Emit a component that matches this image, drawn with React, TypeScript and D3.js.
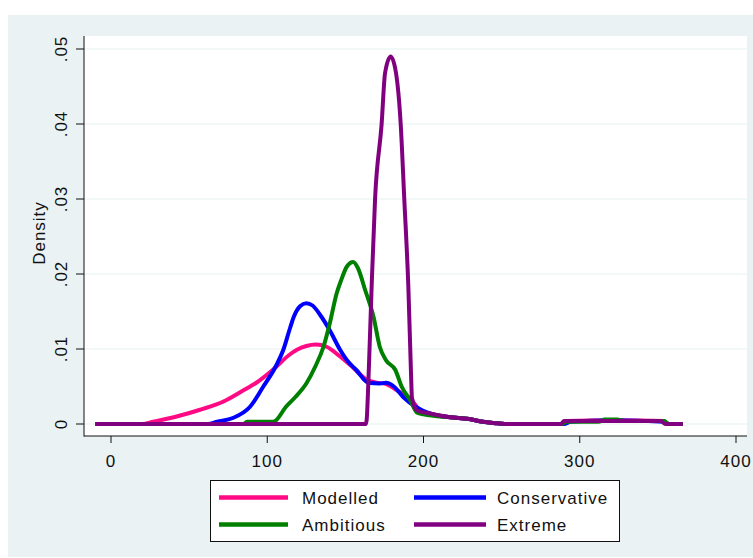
import { useEffect, useRef } from "react";
import * as d3 from "d3";

type Pt = [number, number];

// kernel density estimates (value, density)
const modelled: Pt[] = [
  [-10, 0], [20, 0], [27, 0.0003], [42, 0.001], [57, 0.0019], [72, 0.003], [84, 0.0044],
  [93, 0.0055], [104, 0.0073], [114, 0.0092], [119, 0.0099], [125, 0.0104], [131, 0.0106],
  [138, 0.0103], [146, 0.0091], [155, 0.0075], [163, 0.006], [170, 0.0055], [175, 0.0054],
  [183, 0.0045], [193, 0.003], [198, 0.0018], [204, 0.0014], [217, 0.0009], [228, 0.0007],
  [238, 0.0003], [247, 0.0001], [252, 0], [288, 0], [292, 0.0004], [320, 0.0005],
  [354, 0.0004], [356, 0], [366, 0],
];

const conservative: Pt[] = [
  [-10, 0], [62, 0], [68, 0.0003], [78, 0.0008], [89, 0.0023], [97.5, 0.005], [106, 0.0079],
  [110.3, 0.0099], [114.6, 0.0128], [117, 0.0143], [121, 0.0157], [125, 0.0161], [129, 0.0158],
  [134, 0.0145], [140, 0.0125], [146.6, 0.0099], [151, 0.0085], [157, 0.0072], [164.7, 0.0055],
  [172, 0.0054], [176, 0.0055], [181, 0.005], [187, 0.0036], [195.7, 0.0022], [204, 0.0014],
  [217, 0.0009], [228, 0.0007], [238, 0.0003], [247, 0.0001], [252, 0], [290, 0],
  [294, 0.0003], [320, 0.0005], [354, 0.0003], [357, 0], [366, 0],
];

const ambitious: Pt[] = [
  [-10, 0], [85, 0], [87, 0.0003], [103, 0.0003], [105, 0.0004], [112, 0.0023], [118, 0.0036],
  [125, 0.0054], [130.6, 0.0076], [136, 0.0103], [140, 0.0134], [144.4, 0.0174], [147, 0.019],
  [151, 0.021], [155, 0.0216], [158, 0.0208], [162.6, 0.0179], [168, 0.0143], [172, 0.0103],
  [176, 0.0085], [182, 0.0072], [186, 0.005], [191.4, 0.0032], [196, 0.0015], [200, 0.0013],
  [217, 0.0009], [228, 0.0007], [238, 0.0003], [247, 0.0001], [252, 0], [288, 0],
  [292, 0.0003], [312, 0.0003], [316, 0.0006], [324, 0.0006], [328, 0.0004], [354, 0.0004],
  [357, 0], [366, 0],
];

const extreme: Pt[] = [
  [-10, 0], [163, 0], [163.6, 0.0005], [164.7, 0.0055], [166.8, 0.0183], [169, 0.03],
  [173.2, 0.04], [175.4, 0.0468], [179, 0.049], [182.4, 0.0468], [185.4, 0.04], [187.7, 0.03],
  [190.3, 0.0183], [192, 0.0068], [192.6, 0.0035], [196, 0.0018], [204, 0.0014], [217, 0.0009],
  [228, 0.0007], [238, 0.0003], [247, 0.0001], [252, 0], [288, 0], [290, 0.0004],
  [352, 0.0004], [354.6, 0], [366, 0],
];

const seriesNames = ["Modelled", "Conservative", "Ambitious", "Extreme"];
const seriesData = [modelled, conservative, ambitious, extreme];
const seriesColors = ["#ff0a84", "#0000ff", "#008000", "#800080"];

const xTicks = [0, 100, 200, 300, 400];
const yTicks = [0, 0.01, 0.02, 0.03, 0.04, 0.05];
const yTickLabels = ["0", ".01", ".02", ".03", ".04", ".05"];

const W = 753;
const H = 558;
const FONT = "'Liberation Sans', Arial, sans-serif";

export default function App() {
  const ref = useRef<SVGSVGElement>(null);

  useEffect(() => {
    if (!ref.current) return;
    const svg = d3.select(ref.current);
    svg.selectAll("*").remove();

    const x = d3.scaleLinear().domain([0, 400]).range([111, 736]);
    const y = d3.scaleLinear().domain([0, 0.05]).range([424, 49]);

    const plot = { left: 84, right: 747, top: 36, bottom: 436 };

    svg.append("rect").attr("width", W).attr("height", H).attr("fill", "#fff");
    svg.append("rect").attr("x", 8).attr("y", 15).attr("width", W - 8).attr("height", 542)
      .attr("fill", "#eaf2f3");
    svg.append("rect").attr("x", plot.left).attr("y", plot.top)
      .attr("width", plot.right - plot.left).attr("height", plot.bottom - plot.top)
      .attr("fill", "#fff");

    // gridlines
    svg.append("g").selectAll("line").data(yTicks).enter().append("line")
      .attr("x1", plot.left).attr("x2", plot.right)
      .attr("y1", d => y(d)).attr("y2", d => y(d))
      .attr("stroke", "#e6eff2").attr("stroke-width", 1.2);

    // curves
    const line = d3.line<Pt>().x(d => x(d[0])).y(d => y(d[1])).curve(d3.curveMonotoneX);
    seriesData.forEach((s, i) => {
      svg.append("path").attr("d", line(s) as string)
        .attr("fill", "none").attr("stroke", seriesColors[i])
        .attr("stroke-width", 4).attr("stroke-linejoin", "round");
    });

    // axes
    const axisColor = "#111";
    svg.append("line").attr("x1", plot.left).attr("x2", plot.left)
      .attr("y1", plot.top).attr("y2", plot.bottom + 0.5).attr("stroke", axisColor);
    svg.append("line").attr("x1", plot.left).attr("x2", plot.right)
      .attr("y1", plot.bottom).attr("y2", plot.bottom).attr("stroke", axisColor);

    const yg = svg.append("g").selectAll("g").data(yTicks).enter().append("g");
    yg.append("line").attr("x1", 76).attr("x2", plot.left)
      .attr("y1", d => y(d)).attr("y2", d => y(d)).attr("stroke", axisColor);
    yg.append("text")
      .attr("transform", d => `translate(67,${y(d)}) rotate(-90)`)
      .attr("text-anchor", "middle")
      .attr("font-family", FONT).attr("font-size", 17).attr("letter-spacing", 1)
      .attr("fill", "#111")
      .text((_, i) => yTickLabels[i]);

    const xg = svg.append("g").selectAll("g").data(xTicks).enter().append("g");
    xg.append("line").attr("x1", d => x(d)).attr("x2", d => x(d))
      .attr("y1", plot.bottom).attr("y2", 443).attr("stroke", axisColor);
    xg.append("text")
      .attr("x", d => x(d)).attr("y", 466.5)
      .attr("text-anchor", "middle")
      .attr("font-family", FONT).attr("font-size", 17).attr("letter-spacing", 1)
      .attr("fill", "#111")
      .text(d => String(d));

    svg.append("text")
      .attr("transform", "translate(45,233) rotate(-90)")
      .attr("text-anchor", "middle")
      .attr("font-family", FONT).attr("font-size", 17).attr("letter-spacing", 1)
      .attr("fill", "#111")
      .text("Density");

    // legend
    svg.append("rect").attr("x", 210.5).attr("y", 480.5).attr("width", 409).attr("height", 61)
      .attr("fill", "#fff").attr("stroke", "#111");
    const cols = [{ x1: 219, x2: 288, tx: 302 }, { x1: 414, x2: 486, tx: 497 }];
    const rows = [497.5, 524.5];
    seriesNames.forEach((name, i) => {
      const c = cols[i % 2];
      const r = rows[Math.floor(i / 2)];
      svg.append("line").attr("x1", c.x1).attr("x2", c.x2).attr("y1", r).attr("y2", r)
        .attr("stroke", seriesColors[i]).attr("stroke-width", 4.5);
      svg.append("text").attr("x", c.tx).attr("y", r + 6.5)
        .attr("font-family", FONT).attr("font-size", 17).attr("letter-spacing", 1)
        .attr("fill", "#111")
        .text(name);
    });
  }, []);

  return (
    <svg ref={ref} width={W} height={H}
      style={{ position: "absolute", left: 0, top: 0, display: "block" }} />
  );
}
